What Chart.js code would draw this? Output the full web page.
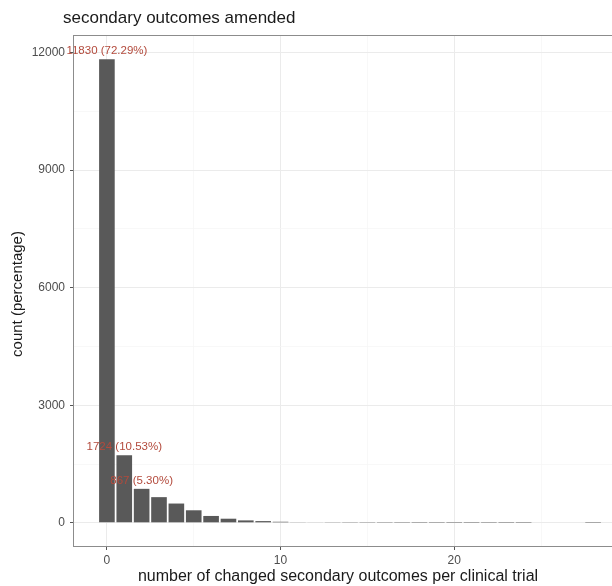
<!DOCTYPE html>
<html>
<head>
<meta charset="utf-8">
<script src="https://cdn.jsdelivr.net/npm/chart.js@4.4.1/dist/chart.umd.min.js"></script>
<style>
  html, body { margin: 0; padding: 0; background: #fff; overflow: hidden; }
  #wrap { width: 612px; height: 586px; overflow: hidden; }
  canvas { display: block; }
</style>
</head>
<body>
<div id="wrap"><canvas id="outcomesChart" width="626" height="586"></canvas></div>
<script>
// number of changed secondary outcomes per trial, and how many trials had that many
const changes = [0, 1, 2, 3, 4, 5, 6, 7, 8, 9, 10, 11, 12, 13, 14, 15, 16, 17, 18, 19, 20, 21, 22, 23, 24, 25, 26, 27, 28];
const trials  = [11830, 1724, 867, 655, 492, 320, 175, 105, 62, 44, 27, 16, 11, 8, 6, 5, 4, 3, 2, 2, 1, 1, 2, 1, 1, 0, 0, 0, 1];

const labelledBars = 3; // first bars get "count (percentage)" text

const yMajor = [0, 3000, 6000, 9000, 12000];
const yMinor = [1500, 4500, 7500, 10500];
const yTickLabels = ['0', '3000', '6000', '9000', '12000'];
const xMajor = [0, 10, 20];
const xMinor = [5, 15, 25];
const xTickLabels = ['0', '10', '20'];

const FONT = '"Liberation Sans", Arial, Helvetica, sans-serif';
const total = trials.reduce((a, b) => a + b, 0);

// ggplot-like 5% expansion around the data
const yTop = Math.max(...trials);
const yMin = -0.05 * yTop, yMax = yTop * 1.05;
const xLo = changes[0] - 0.45, xHi = changes[changes.length - 1] + 0.45;
const xMin = xLo - 0.05 * (xHi - xLo), xMax = xHi + 0.05 * (xHi - xLo);

const points = changes.map((c, i) => ({ x: c, y: trials[i] }));

function setTicks(major, minor) {
  return function (scale) {
    scale.ticks = major.concat(minor).sort((a, b) => a - b).map(v => ({ value: v }));
  };
}

function isMajor(list, c) {
  return c.tick ? list.includes(c.tick.value) : false;
}

const panelAndText = {
  id: 'panelAndText',
  afterDatasetsDraw(chart) {
    const ctx = chart.ctx;
    const meta = chart.getDatasetMeta(0);

    // counts with share of all trials above the first bars
    ctx.save();
    ctx.fillStyle = '#b34a3c';
    ctx.font = '11.5px ' + FONT;
    ctx.textAlign = 'center';
    ctx.textBaseline = 'middle';
    for (let i = 0; i < labelledBars; i++) {
      const el = meta.data[i];
      const pct = (trials[i] / total * 100).toFixed(2);
      ctx.fillText(trials[i] + ' (' + pct + '%)', el.x, el.y - 8);
    }
    ctx.restore();
  },
  afterDraw(chart) {
    const ctx = chart.ctx;
    const a = chart.chartArea;
    ctx.save();
    // panel border
    ctx.strokeStyle = '#8c8c8c';
    ctx.lineWidth = 1;
    ctx.strokeRect(a.left - 0.5, a.top - 0.5, a.right - a.left + 2, a.bottom - a.top + 1);

    ctx.fillStyle = '#1a1a1a';
    ctx.font = '17px ' + FONT;
    ctx.textAlign = 'left';
    ctx.textBaseline = 'middle';
    ctx.fillText('secondary outcomes amended', 63, 18);

    ctx.font = '16px ' + FONT;
    ctx.textAlign = 'center';
    ctx.fillText('number of changed secondary outcomes per clinical trial', 338, 577);

    ctx.font = '15px ' + FONT;
    ctx.translate(18, 294);
    ctx.rotate(-Math.PI / 2);
    ctx.fillText('count (percentage)', 0, 0);
    ctx.restore();
  }
};

new Chart(document.getElementById('outcomesChart'), {
  type: 'bar',
  data: {
    datasets: [{
      data: points,
      backgroundColor: '#595959',
      borderWidth: 0,
      barPercentage: 0.9,
      categoryPercentage: 1.0
    }]
  },
  options: {
    responsive: false,
    animation: false,
    layout: { padding: { top: 36, right: 0, left: 0, bottom: 0 } },
    plugins: {
      legend: { display: false },
      tooltip: { enabled: false },
      title: { display: false }
    },
    scales: {
      x: {
        type: 'linear',
        offset: false,
        min: xMin,
        max: xMax,
        afterBuildTicks: setTicks(xMajor, xMinor),
        afterFit(scale) { scale.height = 40; },
        border: { display: false },
        grid: {
          offset: false,
          color: c => isMajor(xMajor, c) ? '#ebebeb' : '#f5f5f5',
          lineWidth: c => isMajor(xMajor, c) ? 1 : 0.7,
          tickLength: 4,
          tickColor: c => isMajor(xMajor, c) ? '#555' : 'rgba(0,0,0,0)'
        },
        ticks: {
          autoSkip: false,
          maxRotation: 0,
          padding: 3,
          color: '#4d4d4d',
          font: { size: 12, family: FONT },
          callback: v => { const i = xMajor.indexOf(v); return i >= 0 ? xTickLabels[i] : ''; }
        }
      },
      y: {
        min: yMin,
        max: yMax,
        afterBuildTicks: setTicks(yMajor, yMinor),
        afterFit(scale) { scale.width = 74; },
        border: { display: false },
        grid: {
          color: c => isMajor(yMajor, c) ? '#ebebeb' : '#f5f5f5',
          lineWidth: c => isMajor(yMajor, c) ? 1 : 0.7,
          tickLength: 4,
          tickColor: c => isMajor(yMajor, c) ? '#555' : 'rgba(0,0,0,0)'
        },
        ticks: {
          autoSkip: false,
          padding: 5,
          color: '#4d4d4d',
          font: { size: 12, family: FONT },
          callback: v => { const i = yMajor.indexOf(v); return i >= 0 ? yTickLabels[i] : ''; }
        }
      }
    }
  },
  plugins: [panelAndText]
});
</script>
</body>
</html>
